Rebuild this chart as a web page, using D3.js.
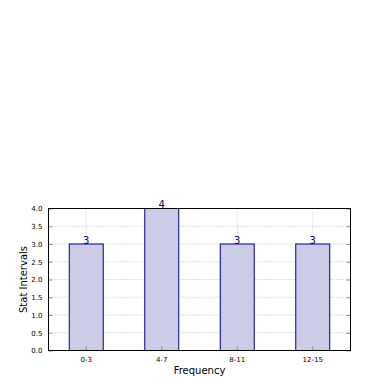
<!DOCTYPE html>
<html><head><meta charset="utf-8">
<script src="https://cdn.jsdelivr.net/npm/d3@7"></script>
<style>html,body{margin:0;padding:0;background:#fff;}svg{display:block;}</style>
</head><body>
<svg id="c" width="390" height="390"></svg>
<script>
const categories = ["0-3", "4-7", "8-11", "12-15"];
const values = [3, 4, 3, 3];
const yTicks = [0, 0.5, 1.0, 1.5, 2.0, 2.5, 3.0, 3.5, 4.0];

const svg = d3.select("#c");
const L = 48.5, R = 350.5, T = 208.5, B = 350.5;
const x = d3.scaleBand().domain(categories).range([L, R]).padding(0);
const y = d3.scaleLinear().domain([0, 4]).range([B, T]);
const barW = x.bandwidth() * 0.45;
const font = "DejaVu Sans";

// grid
const g = svg.append("g");
g.selectAll(".gy").data(yTicks).enter().append("line")
  .attr("x1", L).attr("x2", R).attr("y1", d => y(d)).attr("y2", d => y(d))
  .attr("stroke", "#bbb").attr("stroke-width", 1).attr("stroke-dasharray", "1,2");
g.selectAll(".gx").data(categories).enter().append("line")
  .attr("x1", d => x(d) + x.bandwidth()/2).attr("x2", d => x(d) + x.bandwidth()/2)
  .attr("y1", T).attr("y2", B)
  .attr("stroke", "#bbb").attr("stroke-width", 1).attr("stroke-dasharray", "1,2");

// bars
svg.selectAll(".bar").data(values).enter().append("rect")
  .attr("x", (d, i) => x(categories[i]) + x.bandwidth()/2 - barW/2)
  .attr("y", d => y(d))
  .attr("width", barW)
  .attr("height", d => B - y(d))
  .attr("fill", "rgb(204,204,230)")
  .attr("stroke", "#000080").attr("stroke-width", 1);

// value labels
svg.selectAll(".vl").data(values).enter().append("text")
  .attr("x", (d, i) => x(categories[i]) + x.bandwidth()/2)
  .attr("y", d => y(d) - 0.5)
  .attr("text-anchor", "middle")
  .attr("font-family", font).attr("font-size", 10)
  .attr("fill", "#000080")
  .text(d => d);

// y axis ticks (inside, both sides)
const yAx = d3.axisLeft(y).tickValues(yTicks).tickSize(-4).tickPadding(6)
  .tickFormat(d3.format(".1f"));
const ya = svg.append("g").attr("transform", `translate(${L},0)`).call(yAx);
ya.select(".domain").remove();
ya.selectAll("line").attr("stroke", "#888");
ya.selectAll("text").attr("font-family", font).attr("font-size", 7).attr("fill", "#000");
const yr = svg.append("g").attr("transform", `translate(${R},0)`).call(d3.axisRight(y).tickValues(yTicks).tickSize(-4).tickFormat(""));
yr.select(".domain").remove();
yr.selectAll("line").attr("stroke", "#888");

// x axis
const xAx = d3.axisBottom(x).tickSize(-4).tickPadding(7);
const xa = svg.append("g").attr("transform", `translate(0,${B})`).call(xAx);
xa.select(".domain").remove();
xa.selectAll("line").attr("stroke", "#888");
xa.selectAll("text").attr("font-family", font).attr("font-size", 7).attr("fill", "#000");

// frame
svg.append("rect").attr("x", L).attr("y", T).attr("width", R - L).attr("height", B - T)
  .attr("fill", "none").attr("stroke", "#000").attr("stroke-width", 1);

// axis labels
svg.append("text").attr("x", (L + R)/2).attr("y", 374).attr("text-anchor", "middle")
  .attr("font-family", font).attr("font-size", 10).text("Frequency");
svg.append("text").attr("transform", `translate(27,${(T + B)/2}) rotate(-90)`)
  .attr("text-anchor", "middle")
  .attr("font-family", font).attr("font-size", 10).text("Stat Intervals");
</script>
</body></html>
